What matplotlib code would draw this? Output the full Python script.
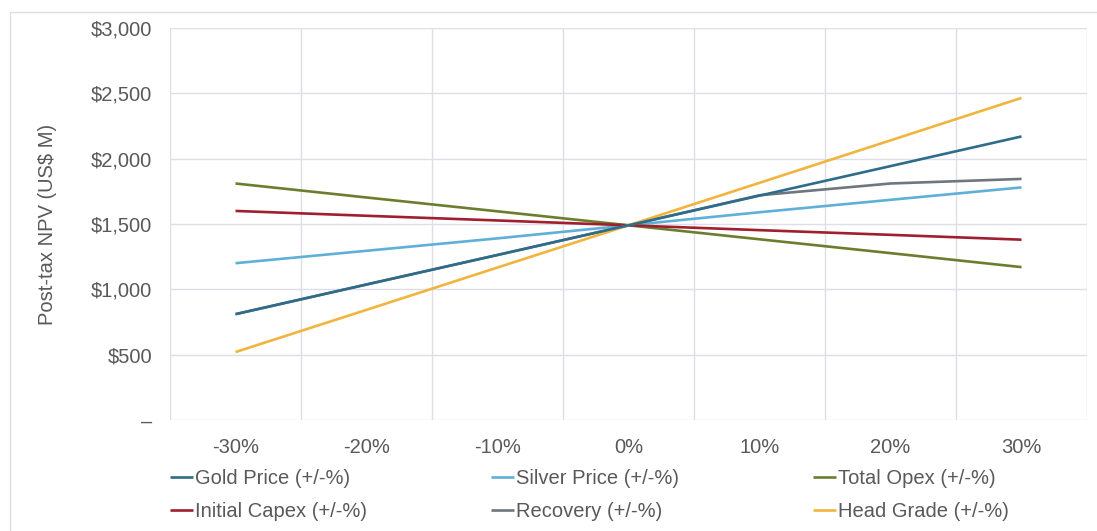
import matplotlib
matplotlib.use("Agg")
import matplotlib.pyplot as plt
from matplotlib.ticker import FuncFormatter, MultipleLocator
from matplotlib.patches import Rectangle

# Sensitivity categories (change applied to each input)
categories = ["-30%", "-20%", "-10%", "0%", "10%", "20%", "30%"]

# Post-tax NPV (US$ M) for each sensitivity case
gold_price = [810, 1037, 1263, 1490, 1717, 1943, 2170]
silver_price = [1200, 1295, 1390, 1490, 1590, 1685, 1780]
total_opex = [1810, 1703, 1597, 1490, 1383, 1277, 1170]
initial_capex = [1600, 1563, 1527, 1490, 1453, 1417, 1380]
recovery = [810, 1037, 1263, 1490, 1720, 1810, 1845]
head_grade = [520, 843, 1167, 1490, 1815, 2140, 2465]

series_names = ["Gold Price (+/-%)", "Silver Price (+/-%)", "Total Opex (+/-%)",
                "Initial Capex (+/-%)", "Recovery (+/-%)", "Head Grade (+/-%)"]
series_values = [gold_price, silver_price, total_opex, initial_capex, recovery, head_grade]
series_colors = ["#2F6C8C", "#5FB0D8", "#6A7E2E", "#A11E2E", "#6E777C", "#F1B43E"]
# gold price sits above recovery where the two coincide
series_z = [3.5, 2, 2, 2, 2, 2]

plt.rcParams["font.family"] = ["Liberation Sans", "DejaVu Sans"]
text_color = "#595959"
grid_color = "#DCDFE8"
fs = 14.5

W, H = 1097, 531
fig = plt.figure(figsize=(W / 100, H / 100), dpi=100)

# light frame around the chart area
fig.patches.append(Rectangle((10 / W, -0.05), 1.2, 1 - 12 / H + 0.05,
                             transform=fig.transFigure, fill=False,
                             edgecolor="#DEDEDE", linewidth=1.0))

ax = fig.add_axes([170 / W, 1 - 420 / H, (1087 - 170) / W, (420 - 28) / H])

x = list(range(len(categories)))
handles = []
for name, vals, col, z in zip(series_names, series_values, series_colors, series_z):
    (h,) = ax.plot(x, vals, color=col, linewidth=1.9, label=name,
                   solid_capstyle="butt", zorder=z)
    handles.append(h)

ax.set_xlim(-0.5, len(categories) - 0.5)
ax.set_ylim(0, 3000)
ax.set_xticks(x)
ax.set_xticklabels(categories)
ax.set_xticks([i - 0.5 for i in range(len(categories) + 1)], minor=True)
ax.yaxis.set_major_locator(MultipleLocator(500))
ax.yaxis.set_major_formatter(FuncFormatter(lambda v, p: "–" if v == 0 else f"${v:,.0f}"))

ax.grid(False)
ax.grid(True, axis="y", which="major", color=grid_color, linewidth=1.0)
ax.grid(True, axis="x", which="minor", color=grid_color, linewidth=1.0)
ax.set_axisbelow(True)
for s in ax.spines.values():
    s.set_visible(False)

ax.tick_params(axis="both", which="both", length=0, colors=text_color, labelsize=fs)
ax.tick_params(axis="y", pad=13)
ax.tick_params(axis="x", pad=13)

ax.set_ylabel("Post-tax NPV (US$ M)", fontsize=fs, color=text_color, labelpad=24)

# legend laid out as three columns of two entries
col_x = [170, 491, 813]
for k in range(3):
    fig.legend([handles[k], handles[k + 3]], [series_names[k], series_names[k + 3]],
               loc="upper left", bbox_to_anchor=(col_x[k] / W, 1 - 469 / H),
               frameon=False, fontsize=fs, labelcolor=text_color,
               handlelength=1.15, handletextpad=0.08, borderpad=0,
               borderaxespad=0, labelspacing=0.7)

fig.savefig("out.png", dpi=100, facecolor="white")
